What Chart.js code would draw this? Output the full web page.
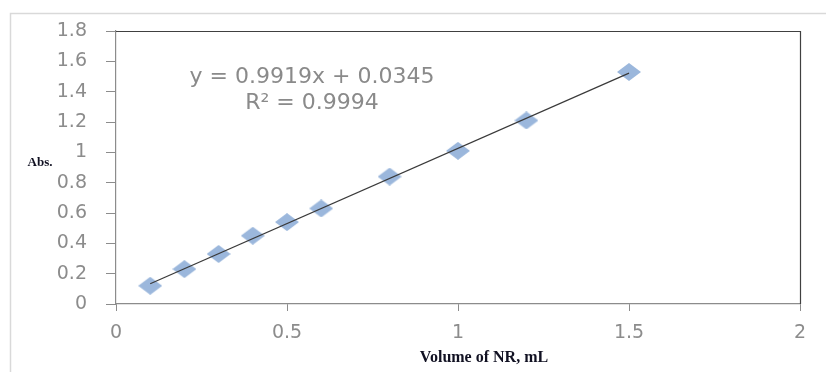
<!DOCTYPE html>
<html>
<head>
<meta charset="utf-8">
<script src="https://cdn.jsdelivr.net/npm/chart.js@4.4.0/dist/chart.umd.min.js"></script>
<style>
	html, body { margin: 0; padding: 0; background: #ffffff; }
	#wrap { position: relative; width: 826px; height: 372px; }
</style>
</head>
<body>
<div id="wrap"><canvas id="chart-area" width="826" height="372"></canvas></div>
<script>
/*
 * 标准曲线数据：NR 体积 (mL) 与吸光度。
 */
var volumes = [ 0.1, 0.2, 0.3, 0.4, 0.5, 0.6, 0.8, 1.0, 1.2, 1.5 ];
var absorbances = [ 0.12, 0.23, 0.33, 0.45, 0.54, 0.63, 0.84, 1.01, 1.21, 1.53 ];
var xTicks = [ 0, 0.5, 1, 1.5, 2 ];
var yTicks = [ 0, 0.2, 0.4, 0.6, 0.8, 1, 1.2, 1.4, 1.6, 1.8 ];

// 线性拟合结果
var slope = 0.9919;
var intercept = 0.0345;
var rSquared = 0.9994;

var trendLine = [ volumes[0], volumes[volumes.length - 1] ].map(function(v) {
	return { x : v, y : slope * v + intercept };
});
var points = volumes.map(function(v, i) {
	return { x : v, y : absorbances[i] };
});

/*
 * 菱形标记（略扁）。
 */
var marker = document.createElement("canvas");
marker.width = 24;
marker.height = 18;
var mctx = marker.getContext("2d");
mctx.fillStyle = "#9bb7dc";
mctx.beginPath();
mctx.moveTo(12, 0);
mctx.lineTo(24, 9);
mctx.lineTo(12, 18);
mctx.lineTo(0, 9);
mctx.closePath();
mctx.fill();

var tickGray = "#8c8c8c";

function plainLabel(value) {
	return String(Number(value));
}

/*
 * 外框、绘图区上/右边框、公式和坐标轴标题。
 */
var decorPlugin = {
	id : "decor",
	beforeDraw : function(chart) {
		var ctx = chart.ctx;
		ctx.save();
		ctx.strokeStyle = "#d9d9d9";
		ctx.lineWidth = 1.5;
		ctx.beginPath();
		ctx.moveTo(10.5, 372);
		ctx.lineTo(10.5, 13.5);
		ctx.lineTo(826, 13.5);
		ctx.stroke();
		ctx.restore();
	},
	afterDraw : function(chart) {
		var ctx = chart.ctx;
		var area = chart.chartArea;
		var xs = chart.scales.x;
		var ys = chart.scales.y;
		ctx.save();
		ctx.strokeStyle = "#404040";
		ctx.lineWidth = 1.2;
		ctx.beginPath();
		ctx.moveTo(area.left, area.top + 0.5);
		ctx.lineTo(area.right + 0.5, area.top + 0.5);
		ctx.lineTo(area.right + 0.5, area.bottom);
		ctx.stroke();

		ctx.fillStyle = "#8a8a8a";
		ctx.font = "22px 'DejaVu Sans'";
		ctx.textAlign = "center";
		ctx.textBaseline = "alphabetic";
		var cx = xs.getPixelForValue(0.573);
		ctx.fillText("y = " + slope + "x + " + intercept, cx, ys.getPixelForValue(1.457));
		ctx.fillText("R\u00b2 = " + rSquared, cx, ys.getPixelForValue(1.286));

		ctx.fillStyle = "#111122";
		ctx.font = "bold 13px 'Liberation Serif'";
		ctx.fillText("Abs.", 40, 166);
		ctx.font = "bold 16px 'Liberation Serif'";
		ctx.fillText("Volume of NR, mL", 484, 362);
		ctx.restore();
	}
};

var config = {
	type : "scatter",
	data : {
		datasets : [ {
			type : "line",
			data : trendLine,
			borderColor : "#3a3a3a",
			borderWidth : 1.2,
			pointRadius : 0,
			fill : false,
			order : 0
		}, {
			data : points,
			pointStyle : marker,
			pointRadius : 12,
			order : 1
		} ]
	},
	plugins : [ decorPlugin ],
	options : {
		responsive : false,
		animation : false,
		events : [],
		layout : {
			padding : { left : 0, top : 31, right : 26, bottom : 0 }
		},
		plugins : {
			legend : { display : false },
			tooltip : { enabled : false }
		},
		scales : {
			x : {
				type : "linear",
				min : 0,
				max : 2,
				afterBuildTicks : function(scale) {
					scale.ticks = xTicks.map(function(v) { return { value : v }; });
				},
				afterFit : function(scale) { scale.height = 68; },
				grid : {
					drawOnChartArea : false,
					color : tickGray,
					tickLength : 7
				},
				border : { color : tickGray, width : 1.2 },
				ticks : {
					color : tickGray,
					padding : 11,
					callback : plainLabel,
					font : { family : "DejaVu Sans", size : 19 }
				}
			},
			y : {
				type : "linear",
				min : 0,
				max : 1.8,
				afterBuildTicks : function(scale) {
					scale.ticks = yTicks.map(function(v) { return { value : v }; });
				},
				afterFit : function(scale) { scale.width = 116; },
				grid : {
					drawOnChartArea : false,
					color : tickGray,
					tickLength : 10
				},
				border : { color : tickGray, width : 1.2 },
				ticks : {
					color : tickGray,
					padding : 19,
					callback : plainLabel,
					font : { family : "DejaVu Sans", size : 19 }
				}
			}
		}
	}
};

window.onload = function() {
	var ctx = document.getElementById("chart-area").getContext("2d");
	window.myScatter = new Chart(ctx, config);
};
</script>
</body>
</html>
